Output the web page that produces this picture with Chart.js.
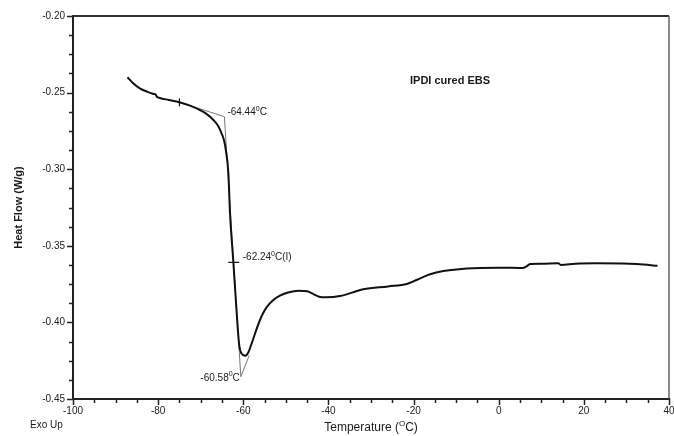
<!DOCTYPE html>
<html>
<head>
<meta charset="utf-8">
<script src="https://cdn.jsdelivr.net/npm/chart.js@4.4.1/dist/chart.umd.min.js"></script>
<style>
html,body{margin:0;padding:0;background:#fff;}
#c{display:block;}
</style>
</head>
<body>
<canvas id="c" width="674" height="436"></canvas>
<script>
// ---- data ----
const temperatures = [-87.2,-86.0,-84.3,-82.5,-81.1,-80.6,-80.3,-79.6,-77.5,-75.0,-72.5,-70.2,-68.5,-67.0,-65.9,-65.1,-64.5,-64.1,-63.5,-63.12,-62.33,-61.64,-61.27,-60.95,-60.5,-59.5,-58.8,-58.0,-56.9,-55.7,-54.5,-53.0,-51.4,-49.5,-47.0,-45.0,-43.5,-42.2,-40.5,-37.3,-31.8,-26.0,-21.6,-19.3,-16.1,-13.0,-9.9,-4.4,0.0,5.6,6.5,7.4,10.0,14.0,14.6,18.0,23.0,30.8,34.0,37.3];
const heatFlow = [-0.2400,-0.2435,-0.2472,-0.2495,-0.2509,-0.2513,-0.2527,-0.2535,-0.2548,-0.2563,-0.2585,-0.2614,-0.2642,-0.2679,-0.2718,-0.2766,-0.2815,-0.2875,-0.3027,-0.3286,-0.3608,-0.3900,-0.4050,-0.4150,-0.4200,-0.4217,-0.4195,-0.4135,-0.4045,-0.3960,-0.3900,-0.3855,-0.3825,-0.3805,-0.3793,-0.3797,-0.3815,-0.3832,-0.3836,-0.3828,-0.3784,-0.3765,-0.3749,-0.3723,-0.3686,-0.3665,-0.3654,-0.3645,-0.3643,-0.3645,-0.3635,-0.3619,-0.3617,-0.3614,-0.3625,-0.3617,-0.3614,-0.3617,-0.3622,-0.3631];

// analysis marks (onset, inflection, end)
const onsetTangentT = [-75.0, -64.44];
const onsetTangentV = [-0.2563, -0.2657];
const steepTangentT = [-64.44, -60.58];
const steepTangentV = [-0.2657, -0.4355];
const endTangentT = [-60.58, -58.6];
const endTangentV = [-0.4355, -0.4215];
const onsetMark = {t: -75.0, v: -0.2563};
const inflectionMark = {t: -62.24, v: -0.3608};

const annotationLabels = [
  {t: -64.44, v: -0.2657, parts: [['-64.44'],['0',1],['C']]},
  {t: -62.24, v: -0.3608, parts: [['-62.24'],['0',1],['C(I)']]},
  {t: -60.58, v: -0.4355, parts: [['-60.58'],['0',1],['C']]}
];

const xMin = -100, xMax = 40, xMajor = 20, xMinor = 5;
const yMin = -0.45, yMax = -0.20, yMajor = 0.05, yMinor = 0.0125;

const sampleTitle = 'IPDI cured EBS';
const xTitleParts = [['Temperature ('],['O',1],['C)']];
const yTitleText = 'Heat Flow (W/g)';
const cornerNote = 'Exo Up';

const zip = (a,b) => a.map((x,i)=>({x:x, y:b[i]}));

const FONT = '"Liberation Sans", Arial, sans-serif';

function drawRich(ctx, parts, x, y, align, size){
  const big = size + 'px ' + FONT;
  const small = Math.round(size*0.7) + 'px ' + FONT;
  let w = 0;
  parts.forEach(p => { ctx.font = p[1] ? small : big; w += ctx.measureText(p[0]).width; });
  let cx = align === 'right' ? x - w : (align === 'center' ? x - w/2 : x);
  ctx.textAlign = 'left';
  ctx.textBaseline = 'middle';
  parts.forEach(p => {
    ctx.font = p[1] ? small : big;
    ctx.fillText(p[0], cx, p[1] ? y - size*0.35 : y);
    cx += ctx.measureText(p[0]).width;
  });
}

const decor = {
  id: 'decor',
  afterDraw(chart){
    const ctx = chart.ctx;
    const xs = chart.scales.x, ys = chart.scales.y;
    const a = chart.chartArea;
    ctx.save();
    // top & right frame
    ctx.strokeStyle = '#333'; ctx.lineWidth = 2;
    ctx.beginPath(); ctx.moveTo(a.left, a.top); ctx.lineTo(a.right, a.top); ctx.stroke();
    ctx.strokeStyle = '#666'; ctx.lineWidth = 1.5;
    ctx.beginPath(); ctx.moveTo(a.right, a.top); ctx.lineTo(a.right, a.bottom); ctx.stroke();
    // ticks
    ctx.strokeStyle = '#222'; ctx.lineWidth = 1.5;
    for (let v = xMin; v <= xMax + 1e-9; v += xMinor){
      const px = Math.round(xs.getPixelForValue(v)) + 0.5;
      const major = Math.abs(v % xMajor) < 1e-9;
      ctx.beginPath(); ctx.moveTo(px, a.bottom - 1); ctx.lineTo(px, a.bottom + (major ? 6 : 4)); ctx.stroke();
    }
    for (let i = 0; i <= Math.round((yMax - yMin)/yMinor); i++){
      const v = yMin + i*yMinor;
      const py = Math.round(ys.getPixelForValue(v)) + 0.5;
      const major = i % 4 === 0;
      ctx.beginPath(); ctx.moveTo(a.left + 1, py); ctx.lineTo(a.left - (major ? 6 : 4), py); ctx.stroke();
    }
    // texts
    ctx.fillStyle = '#1a1a1a';
    ctx.font = 'bold 11px ' + FONT;
    ctx.textAlign = 'left'; ctx.textBaseline = 'middle';
    ctx.fillText(sampleTitle, 410, 81);
    const offs = [[3,-4,'left'],[9,-5,'left'],[-1,1,'right']];
    annotationLabels.forEach((L,i) => {
      const px = xs.getPixelForValue(L.t), py = ys.getPixelForValue(L.v);
      drawRich(ctx, L.parts, px + offs[i][0], py + offs[i][1], offs[i][2], 10);
    });
    drawRich(ctx, xTitleParts, (a.left + a.right)/2, 428, 'center', 12);
    ctx.font = '10px ' + FONT;
    ctx.textAlign = 'left';
    ctx.fillText(cornerNote, 30, 425);
    ctx.restore();
  }
};

new Chart(document.getElementById('c'), {
  type: 'scatter',
  data: {
    datasets: [
      {data: zip(temperatures, heatFlow), showLine: true, borderColor: '#111', borderWidth: 2, pointRadius: 0, cubicInterpolationMode: 'monotone', order: 1},
      {data: zip(onsetTangentT, onsetTangentV), showLine: true, borderColor: '#777', borderWidth: 1, pointRadius: 0, order: 2},
      {data: zip(steepTangentT, steepTangentV), showLine: true, borderColor: '#777', borderWidth: 1, pointRadius: 0, order: 2},
      {data: zip(endTangentT, endTangentV), showLine: true, borderColor: '#777', borderWidth: 1, pointRadius: 0, order: 2},
      {data: [{x: onsetMark.t, y: onsetMark.v}], pointStyle: 'line', rotation: 90, pointRadius: 4, borderColor: '#111', borderWidth: 1.2, order: 0},
      {data: [{x: inflectionMark.t, y: inflectionMark.v}], pointStyle: 'line', rotation: 0, pointRadius: 5.5, borderColor: '#111', borderWidth: 1.2, order: 0}
    ]
  },
  options: {
    responsive: false,
    animation: false,
    events: [],
    layout: {autoPadding: false, padding: {left: 0, top: 16, right: 5, bottom: 0}},
    plugins: {legend: {display: false}, tooltip: {enabled: false}},
    scales: {
      x: {
        type: 'linear', min: xMin, max: xMax,
        afterFit(s){ s.height = 37; s.paddingLeft = 0; s.paddingRight = 0; },
        grid: {drawOnChartArea: false, drawTicks: false},
        border: {display: true, color: '#222', width: 2},
        ticks: {stepSize: xMajor, padding: 6, color: '#222', font: {family: FONT, size: 10}, maxRotation: 0,
                callback: v => String(v)}
      },
      y: {
        type: 'linear', min: yMin, max: yMax,
        afterFit(s){ s.width = 73; s.paddingTop = 0; s.paddingBottom = 0; },
        grid: {drawOnChartArea: false, drawTicks: false},
        border: {display: true, color: '#222', width: 2},
        title: {display: true, text: yTitleText, color: '#1a1a1a', font: {family: FONT, size: 11, weight: 'bold'}, padding: {top: 12, bottom: 0}},
        ticks: {stepSize: yMajor, padding: 8, color: '#222', font: {family: FONT, size: 10},
                callback: v => v.toFixed(2)}
      }
    }
  },
  plugins: [decor]
});
</script>
</body>
</html>
